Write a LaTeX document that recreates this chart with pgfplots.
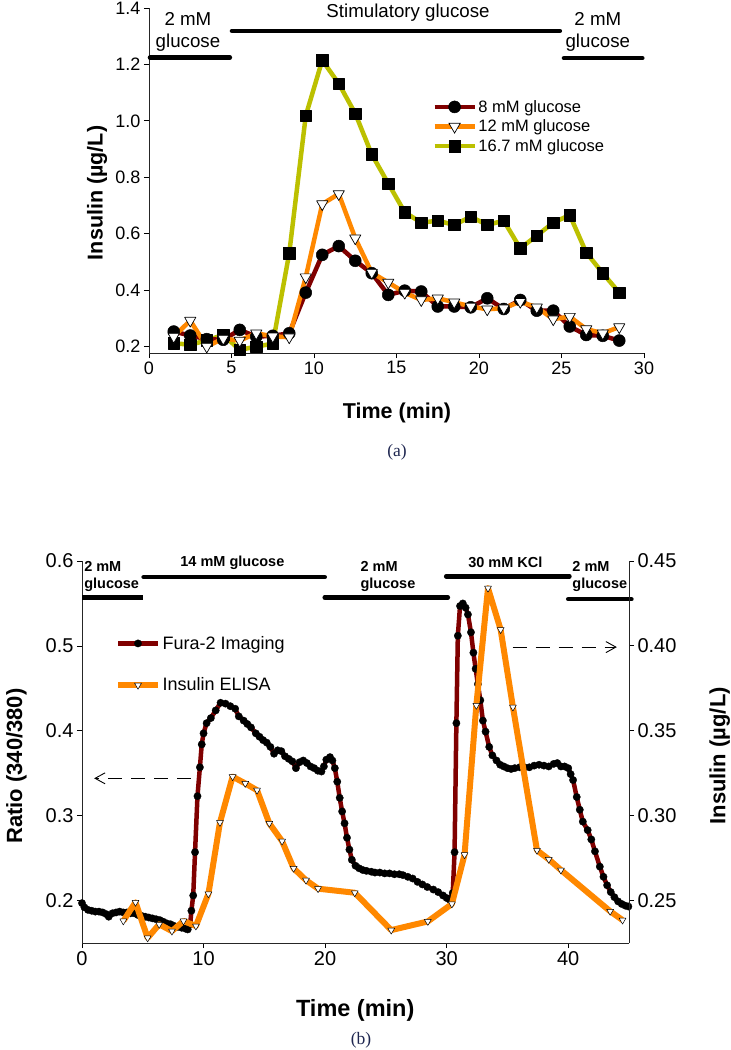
\documentclass[border=0pt]{standalone}
\usepackage{fontspec}
\setmainfont{Liberation Sans}
\newfontfamily\seriffont{Liberation Serif}
\usepackage{pgfplots}
\pgfplotsset{compat=1.18}
\usetikzlibrary{arrows.meta}
\definecolor{dred}{RGB}{128,0,0}
\definecolor{orng}{RGB}{255,136,0}
\definecolor{ygreen}{RGB}{188,192,0}
\definecolor{capblue}{RGB}{30,38,80}
\pgfplotsset{
  myaxis/.style={
    scale only axis, clip=false,
    tick align=outside, major tick length=5pt,
    tick style={black, line width=0.8pt},
    axis line style={black!85, line width=0.8pt},
    every tick label/.append style={font=\fontsize{18}{20}\selectfont},
    /pgf/number format/assume math mode=true,
  },
  legimg/.style={legend image code/.code={%
    \draw[mark repeat=2,mark phase=2,##1] plot coordinates {(0pt,0pt) (20pt,0pt) (40pt,0pt)};}},
}
\begin{document}
\begin{tikzpicture}
\useasboundingbox (0,0) rectangle (731pt,-1050pt);

% ---------------- Panel (a) ----------------
\begin{axis}[myaxis,
  at={(149pt,-353pt)}, anchor=south west,
  width=495pt, height=345pt,
  xmin=0, xmax=30, ymin=0.177, ymax=1.4,
  axis x line*=bottom, axis y line*=left,
  xtick={0,5,10,15,20,25,30},
  ytick={0.2,0.4,0.6,0.8,1.0,1.2,1.4},
  yticklabel style={/pgf/number format/.cd, fixed, fixed zerofill, precision=1},
  xlabel={Time (min)}, ylabel={Insulin (µg/L)},
  xlabel style={font=\bfseries\fontsize{21.5}{24}\selectfont, at={(axis description cs:0.501,-0.174)}, anchor=center},
  ylabel style={font=\bfseries\fontsize{21.5}{24}\selectfont, at={(axis description cs:-0.105,0.464)}, anchor=center},
  legimg,
  legend style={draw=none, fill=none, at={(axis description cs:0.572,0.738)}, anchor=north west,
    font=\fontsize{16.5}{18}\selectfont, row sep=3pt, inner sep=0pt, nodes={inner sep=1.6pt}},
  legend cell align=left,
]
% 16.7 mM
\addplot[ygreen, line width=4.5pt, line join=round, mark=square*, mark size=5.7pt,
  mark options={solid, fill=black, draw=black, line width=0.5pt}, forget plot] coordinates {
(1.5,0.212)(2.5,0.206)(3.5,0.222)(4.5,0.241)(5.5,0.188)(6.5,0.200)(7.5,0.210)(8.5,0.531)
(9.5,1.018)(10.5,1.215)(11.5,1.132)(12.5,1.026)(13.5,0.881)(14.5,0.778)(15.5,0.676)(16.5,0.639)
(17.5,0.646)(18.5,0.631)(19.5,0.660)(20.5,0.631)(21.5,0.646)(22.5,0.548)(23.5,0.593)(24.5,0.639)
(25.5,0.666)(26.5,0.533)(27.5,0.460)(28.5,0.391)};
% 8 mM
\addplot[dred, line width=4.5pt, line join=round, mark=*, mark size=6pt,
  mark options={solid, fill=black, draw=black, line width=0.5pt}, forget plot] coordinates {
(1.5,0.253)(2.5,0.239)(3.5,0.226)(4.5,0.224)(5.5,0.259)(6.5,0.235)(7.5,0.238)(8.5,0.247)
(9.5,0.391)(10.5,0.525)(11.5,0.556)(12.5,0.504)(13.5,0.460)(14.5,0.383)(15.5,0.398)(16.5,0.395)
(17.5,0.342)(18.5,0.342)(19.5,0.339)(20.5,0.371)(21.5,0.333)(22.5,0.365)(23.5,0.327)(24.5,0.327)
(25.5,0.271)(26.5,0.241)(27.5,0.238)(28.5,0.221)};
% 12 mM
\addplot[orng, line width=4.5pt, line join=round, mark=triangle*, mark size=6.5pt,
  mark options={solid, fill=white, draw=black, line width=0.7pt, rotate=180}, forget plot] coordinates {
(1.5,0.235)(2.5,0.292)(3.5,0.200)(4.5,0.228)(5.5,0.221)(6.5,0.247)(7.5,0.236)(8.5,0.233)
(9.5,0.446)(10.5,0.705)(11.5,0.741)(12.5,0.584)(13.5,0.462)(14.5,0.427)(15.5,0.391)(16.5,0.365)
(17.5,0.371)(18.5,0.357)(19.5,0.342)(20.5,0.332)(21.5,0.336)(22.5,0.359)(23.5,0.339)(24.5,0.297)
(25.5,0.306)(26.5,0.262)(27.5,0.247)(28.5,0.269)};
\addlegendimage{dred, line width=4.5pt, mark=*, mark size=6pt, mark options={solid, fill=black, draw=black, line width=0.5pt}}
\addlegendentry{8 mM glucose}
\addlegendimage{orng, line width=4.5pt, mark=triangle*, mark size=6.5pt, mark options={solid, fill=white, draw=black, line width=0.7pt, rotate=180}}
\addlegendentry{12 mM glucose}
\addlegendimage{ygreen, line width=4.5pt, mark=square*, mark size=5.7pt, mark options={solid, fill=black, draw=black, line width=0.5pt}}
\addlegendentry{16.7 mM glucose}
% annotations
\draw[black, line width=4.5pt, line cap=round] (axis cs:0.06,1.224) -- (axis cs:4.9,1.224);
\draw[black, line width=4.5pt, line cap=round] (axis cs:5.03,1.319) -- (axis cs:24.9,1.319);
\draw[black, line width=4.5pt, line cap=round] (axis cs:25.15,1.222) -- (axis cs:29.9,1.222);
\node[align=center, font=\fontsize{18.7}{22}\selectfont, inner sep=0pt] at (axis cs:2.36,1.314) {2 mM\\glucose};
\node[align=center, font=\fontsize{18.7}{22}\selectfont, inner sep=0pt] at (axis cs:15.7,1.385) {Stimulatory glucose};
\node[align=center, font=\fontsize{18.7}{22}\selectfont, inner sep=0pt] at (axis cs:27.2,1.314) {2 mM\\glucose};
\end{axis}
\node[font=\seriffont\fontsize{17.5}{20}\selectfont, text=capblue] at (397pt,-452pt) {(a)};

% ---------------- Panel (b) ----------------
\begin{axis}[myaxis,
  at={(82pt,-943pt)}, anchor=south west,
  width=547pt, height=382pt,
  xmin=0, xmax=45, ymin=0.15, ymax=0.6,
  axis x line*=bottom, axis y line*=left,
  every tick label/.append style={font=\fontsize{20}{22}\selectfont},
  xtick={0,10,20,30,40},
  ytick={0.2,0.3,0.4,0.5,0.6},
  yticklabel style={/pgf/number format/.cd, fixed, fixed zerofill, precision=1},
  xlabel={Time (min)}, ylabel={Ratio (340/380)},
  xlabel style={font=\bfseries\fontsize{23.5}{26}\selectfont, at={(axis description cs:0.4995,-0.176)}, anchor=center},
  ylabel style={font=\bfseries\fontsize{22}{24}\selectfont, at={(axis description cs:-0.120,0.463)}, anchor=center},
  legimg,
  legend style={draw=none, fill=none, at={(axis description cs:0.06,0.808)}, anchor=north west,
    font=\fontsize{18}{20}\selectfont, row sep=24pt, inner sep=0pt, nodes={inner sep=1.6pt}},
  legend cell align=left,
]
\addplot[dred, line width=4.5pt, line join=round, mark=*, mark size=3.7pt,
  mark options={solid, fill=black, draw=black, line width=0.3pt}] coordinates {
(0.0,0.197)(0.2,0.192)(0.5,0.189)(0.8,0.188)(1.1,0.187)(1.4,0.187)(1.7,0.186)(2.0,0.184)
(2.2,0.181)(2.5,0.185)(2.8,0.186)(3.1,0.187)(3.4,0.186)(3.7,0.186)(4.0,0.185)(4.3,0.185)
(4.6,0.183)(4.9,0.182)(5.2,0.181)(5.5,0.180)(5.8,0.179)(6.1,0.178)(6.4,0.177)(6.7,0.175)
(7.0,0.173)(7.3,0.172)(7.6,0.170)(7.9,0.169)(8.2,0.168)(8.5,0.167)(8.7,0.166)(8.9,0.172)
(9.0,0.188)(9.15,0.206)(9.3,0.257)(9.5,0.323)(9.7,0.357)(9.85,0.384)(10.0,0.397)(10.25,0.409)
(10.6,0.415)(11.0,0.424)(11.4,0.433)(11.8,0.432)(12.2,0.429)(12.6,0.426)(12.9,0.417)(13.3,0.412)
(13.6,0.408)(13.9,0.404)(14.3,0.397)(14.6,0.393)(14.9,0.389)(15.2,0.386)(15.5,0.381)(15.8,0.373)
(16.1,0.377)(16.4,0.376)(16.7,0.370)(17.0,0.367)(17.3,0.364)(17.6,0.356)(17.9,0.363)(18.2,0.365)
(18.5,0.362)(18.8,0.358)(19.1,0.356)(19.4,0.353)(19.7,0.352)(19.9,0.358)(20.1,0.366)(20.4,0.369)
(20.6,0.365)(20.8,0.356)(21.0,0.340)(21.2,0.321)(21.4,0.305)(21.6,0.291)(21.8,0.274)(22.0,0.260)
(22.2,0.248)(22.5,0.241)(22.8,0.238)(23.1,0.236)(23.4,0.235)(23.8,0.234)(24.1,0.233)(24.5,0.233)
(24.9,0.232)(25.3,0.232)(25.7,0.231)(26.1,0.231)(26.4,0.230)(26.8,0.228)(27.2,0.226)(27.6,0.222)
(28.0,0.219)(28.4,0.216)(28.9,0.213)(29.3,0.210)(29.7,0.206)(30.0,0.203)(30.25,0.201)(30.5,0.209)
(30.65,0.257)(30.8,0.409)(30.92,0.512)(31.1,0.547)(31.33,0.550)(31.56,0.545)(31.75,0.537)(32.0,0.516)
(32.2,0.492)(32.38,0.473)(32.57,0.455)(32.77,0.436)(32.98,0.412)(33.2,0.399)(33.5,0.381)(33.76,0.371)
(34.1,0.365)(34.4,0.360)(34.7,0.358)(35.0,0.356)(35.3,0.355)(35.6,0.356)(36.0,0.357)(36.4,0.357)
(36.8,0.357)(37.2,0.359)(37.6,0.360)(38.0,0.359)(38.4,0.358)(38.8,0.361)(39.1,0.362)(39.4,0.358)
(39.7,0.358)(40.0,0.356)(40.2,0.349)(40.4,0.342)(40.7,0.322)(40.95,0.307)(41.2,0.293)(41.6,0.283)
(41.9,0.272)(42.2,0.258)(42.6,0.240)(42.9,0.228)(43.2,0.218)(43.5,0.210)(43.8,0.204)(44.1,0.199)
(44.4,0.196)(44.7,0.194)(44.95,0.193)};
\addlegendentry{Fura-2 Imaging}
\addlegendimage{orng, line width=6pt, mark=triangle*, mark size=4pt, mark options={solid, fill=white, draw=black, line width=0.5pt, rotate=180}}
\addlegendentry{Insulin ELISA}
% annotations
\draw[black, line width=4.5pt] (axis cs:0,0.557) -- (axis cs:5.0,0.557);
\draw[black, line width=4.5pt, line cap=round] (axis cs:5.07,0.581) -- (axis cs:19.97,0.581);
\draw[black, line width=4.5pt, line cap=round] (axis cs:19.97,0.557) -- (axis cs:30.1,0.557);
\draw[black, line width=4.5pt, line cap=round] (axis cs:29.96,0.582) -- (axis cs:40.1,0.582);
\draw[black, line width=4.5pt, line cap=round] (axis cs:40.0,0.555) -- (axis cs:45.2,0.555);
\node[align=left, anchor=west, font=\bfseries\fontsize{14.5}{16.7}\selectfont, inner sep=0pt] at (axis cs:0.17,0.582) {2 mM\\glucose};
\node[font=\bfseries\fontsize{14.5}{16.7}\selectfont, inner sep=0pt] at (axis cs:12.37,0.598) {14 mM glucose};
\node[align=left, anchor=west, font=\bfseries\fontsize{14.5}{16.7}\selectfont, inner sep=0pt] at (axis cs:22.9,0.582) {2 mM\\glucose};
\node[font=\bfseries\fontsize{14.5}{16.7}\selectfont, inner sep=0pt] at (axis cs:34.83,0.598) {30 mM KCl};
\node[align=left, anchor=west, font=\bfseries\fontsize{14.5}{16.7}\selectfont, inner sep=0pt] at (axis cs:40.33,0.582) {2 mM\\glucose};
\draw[black, line width=0.9pt, dash pattern=on 14pt off 9pt, -{Straight Barb[length=10pt,width=11pt]}] (axis cs:8.96,0.344) -- (axis cs:1.0,0.344);
\end{axis}
\begin{axis}[myaxis,
  at={(82pt,-943pt)}, anchor=south west,
  width=547pt, height=382pt,
  xmin=0, xmax=45, ymin=0.225, ymax=0.45,
  axis x line=none, axis y line*=right,
  every tick label/.append style={font=\fontsize{20}{22}\selectfont},
  ytick={0.25,0.30,0.35,0.40,0.45},
  yticklabel style={/pgf/number format/.cd, fixed, fixed zerofill, precision=2},
  ylabel={Insulin (µg/L)},
  ylabel style={font=\bfseries\fontsize{22}{24}\selectfont, at={(axis description cs:1.166,0.49)}, anchor=center, rotate=0},
]
\addplot[orng, line width=6pt, line join=round, mark=triangle*, mark size=4pt,
  mark options={solid, fill=white, draw=black, line width=0.5pt, rotate=180}] coordinates {
(3.4,0.238)(4.4,0.249)(5.4,0.228)(6.35,0.236)(7.4,0.232)(8.35,0.238)(9.37,0.235)(10.4,0.254)
(11.35,0.296)(12.39,0.323)(13.43,0.319)(14.4,0.315)(15.41,0.2955)(16.46,0.285)(17.41,0.269)
(18.43,0.262)(19.42,0.257)(22.44,0.2546)(25.44,0.2326)(28.45,0.2377)(30.43,0.248)(31.47,0.277)
(32.44,0.365)(33.4,0.434)(34.44,0.4096)(35.45,0.364)(37.43,0.2796)(38.4,0.2743)(39.4,0.268)
(43.45,0.2437)(44.47,0.2385)};
\draw[black, line width=0.9pt, dash pattern=on 14pt off 9pt, -{Straight Barb[length=10pt,width=11pt]}] (axis cs:35.43,0.3993) -- (axis cs:44.0,0.3993);
\end{axis}
\node[font=\seriffont\fontsize{17.5}{20}\selectfont, text=capblue] at (361pt,-1040pt) {(b)};
\end{tikzpicture}
\end{document}
